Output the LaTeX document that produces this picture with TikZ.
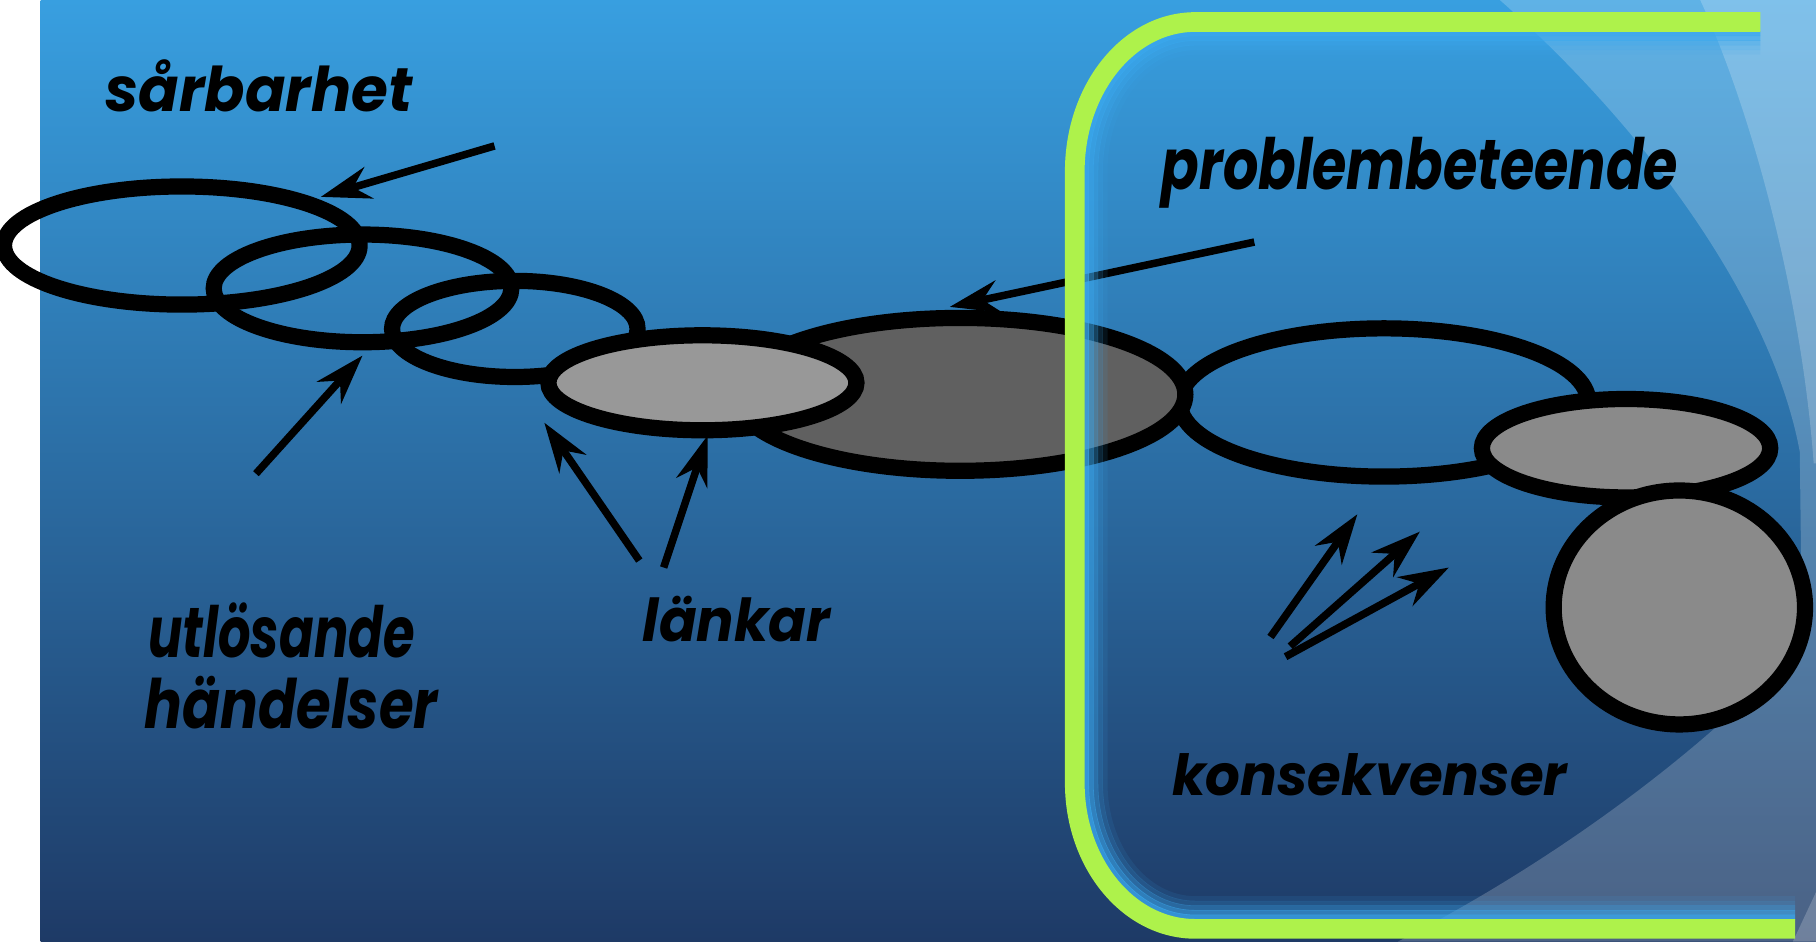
\documentclass[tikz,border=0pt]{standalone}
\usepackage{fontspec}
\usepackage{graphicx}
\newfontfamily\lblfont{Poppins}
\usetikzlibrary{arrows.meta,shapes.geometric}
\definecolor{bgtop}{HTML}{389FE0}
\definecolor{bgbot}{HTML}{1E3A66}
\definecolor{framegreen}{HTML}{AEF24B}
\definecolor{glowblue}{HTML}{3AA8EE}
\definecolor{lgray}{HTML}{989898}
\definecolor{dgray}{HTML}{606060}
\definecolor{mgray}{HTML}{8A8A8A}
\newcommand\lbl[3]{\resizebox{#1mm}{#2mm}{\lblfont\bfseries\itshape\raisebox{0pt}[\fontcharht\font`l][0pt]{#3}}}
\newcommand\framestroke[3]{%
  \draw[#2, line width=#3]
    (1520,{19+#1}) -- (1032,{19+#1})
    .. controls ({1032-0.5523*(104-#1)},{19+#1}) and ({928+#1},{148-0.5523*(129-#1)}) .. ({928+#1},148)
    -- ({928+#1},676)
    .. controls ({928+#1},{676+0.5523*(126-#1)}) and ({1032-0.5523*(104-#1)},{802-#1}) .. (1032,{802-#1})
    -- (1550,{802-#1});}
\tikzset{
  ring/.style={draw=black, line width=1.4mm, ellipse, inner sep=0pt, outer sep=0pt},
  pointer/.style={draw=black, line width=0.65mm, -{Stealth[length=4.3mm, width=2.8mm, inset=1.4mm]}},
  label/.style={anchor=base west, inner sep=0pt, outer sep=0pt}
}
\begin{document}
\begin{tikzpicture}[x=0.1mm, y=-0.1mm]
\useasboundingbox (0,0) rectangle (1568,813);
% background
\fill[white] (0,0) rectangle (1568,813);
\shade[top color=bgtop, bottom color=bgbot] (35,0) rectangle (1568,813);
\fill[white, opacity=0.2] (1295,0) .. controls (1420,110) and (1530,260) .. (1554,390)
  -- (1556,555) .. controls (1480,640) and (1350,740) .. (1207,813)
  -- (1570,813) -- (1570,0) -- cycle;
\fill[white, opacity=0.2] (1468,0) .. controls (1510,90) and (1555,250) .. (1566,400)
  -- (1570,400) -- (1570,0) -- cycle;
\fill[white, opacity=0.2] (1570,766) -- (1548,813) -- (1570,813) -- cycle;
% chain of ellipses
\node[ring, minimum width=30.7mm, minimum height=10.2mm] (e1) at (157,212) {};
\node[ring, minimum width=25.7mm, minimum height=9.3mm] (e2) at (313,249) {};
\node[ring, minimum width=21.2mm, minimum height=8.3mm] (e3) at (444.5,284) {};
\node[ring, minimum width=35.3mm, minimum height=12.8mm] (e6) at (1195,347.5) {};
\node[ring, fill=dgray, minimum width=38.9mm, minimum height=13.2mm] (e5) at (829,340.5) {};
\node[ring, fill=lgray, minimum width=26.6mm, minimum height=8.2mm] (e4) at (606.5,330.5) {};
\node[ring, fill=mgray, minimum width=24.9mm, minimum height=8.5mm] (e7) at (1404,387) {};
\node[ring, fill=mgray, minimum width=21.7mm, minimum height=20.2mm] (e8) at (1450,524.5) {};
% arrows
\coordinate (sA) at (427,126);  \coordinate (tA) at (277,170);
\coordinate (sB) at (221,409);  \coordinate (tB) at (313,307);
\coordinate (sC) at (552,484);  \coordinate (tC) at (470,365);
\coordinate (sD) at (573,490);  \coordinate (tD) at (611,376);
\coordinate (sE) at (1083,209); \coordinate (tE) at (820,265);
\coordinate (sF1) at (1097,550); \coordinate (tF1) at (1172,444);
\coordinate (sF2) at (1114,558); \coordinate (tF2) at (1226,459);
\coordinate (sF3) at (1110,567); \coordinate (tF3) at (1251,490);
\draw[pointer] (sA) -- (tA);
\draw[pointer] (sB) -- (tB);
\draw[pointer] (sC) -- (tC);
\draw[pointer] (sD) -- (tD);
\draw[pointer] (sE) -- (tE);
\draw[pointer] (sF1) -- (tF1);
\draw[pointer] (sF2) -- (tF2);
\draw[pointer] (sF3) -- (tF3);
% labels
\node[label] (t1) at (91,96.5) {\lbl{26.5}{3.75}{sårbarhet}};
\node[label] (t2) at (1003,163.6) {\lbl{44.6}{4.3}{problembeteende}};
\node[label] (t3) at (128,567.5) {\lbl{23.0}{4.3}{utlösande}};
\node[label] (t4) at (125,628.7) {\lbl{25.3}{4.15}{händelser}};
\node[label] (t5) at (555,554) {\lbl{16.2}{3.6}{länkar}};
\node[label] (t6) at (1012,686.5) {\lbl{34.1}{3.45}{konsekvenser}};
% glow and green frame
\framestroke{26}{glowblue, opacity=0.1}{0.45mm}
\framestroke{22}{glowblue, opacity=0.22}{0.45mm}
\framestroke{18}{glowblue, opacity=0.4}{0.45mm}
\framestroke{14}{glowblue, opacity=0.6}{0.45mm}
\framestroke{10}{glowblue, opacity=0.8}{0.45mm}
\framestroke{0}{framegreen}{1.7mm}
\end{tikzpicture}
\end{document}
